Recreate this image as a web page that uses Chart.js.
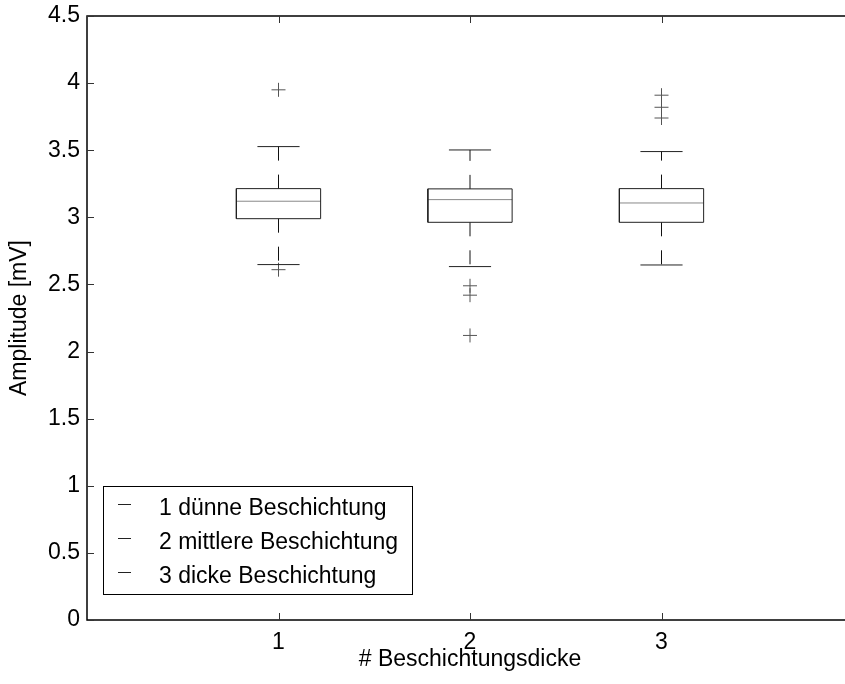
<!DOCTYPE html>
<html>
<head>
<meta charset="utf-8">
<script src="https://cdn.jsdelivr.net/npm/chart.js@4/dist/chart.umd.min.js"></script>
<style>
  html, body { margin: 0; padding: 0; background: #fff; overflow: hidden; }
  #wrap { position: relative; width: 870px; height: 684px; }
</style>
</head>
<body>
<div id="wrap"><canvas id="c"></canvas></div>
<script>
// ---- data ----
const categories = [1, 2, 3];
const xTickLabels = ['1', '2', '3'];
const yTickValues = [0, 0.5, 1, 1.5, 2, 2.5, 3, 3.5, 4, 4.5];
const yTickLabels = ['0', '0.5', '1', '1.5', '2', '2.5', '3', '3.5', '4', '4.5'];
const whiskerLow  = [2.648, 2.633, 2.645];
const q1          = [2.990, 2.963, 2.963];
const median      = [3.120, 3.132, 3.107];
const q3          = [3.214, 3.212, 3.214];
const whiskerHigh = [3.527, 3.502, 3.490];
const outliers1 = [3.95, 2.61];
const outliers2 = [2.49, 2.42, 2.12];
const outliers3 = [3.91, 3.82, 3.74];
const outliers = [outliers1, outliers2, outliers3];
const legendLabels = ['1 dünne Beschichtung', '2 mittlere Beschichtung', '3 dicke Beschichtung'];
const yTitle = 'Amplitude [mV]';
const xTitle = '# Beschichtungsdicke';

// ---- style ----
const FONT = '"Liberation Sans", Arial, sans-serif';
const FS = 23;
const BOX_HALF = 0.22;
const CAP_HALF = 0.11;

const datasets = [];
categories.forEach((c, i) => {
  datasets.push({
    data: [
      {x: c - BOX_HALF, y: q1[i]}, {x: c + BOX_HALF, y: q1[i]},
      {x: c + BOX_HALF, y: q3[i]}, {x: c - BOX_HALF, y: q3[i]},
      {x: c - BOX_HALF, y: q1[i]}
    ],
    showLine: true, borderColor: '#222', borderWidth: 1, pointRadius: 0, fill: false
  });
  datasets.push({
    data: [{x: c - BOX_HALF, y: median[i]}, {x: c + BOX_HALF, y: median[i]}],
    showLine: true, borderColor: '#888', borderWidth: 1, pointRadius: 0
  });
  datasets.push({
    data: [{x: c, y: q3[i]}, {x: c, y: whiskerHigh[i]}],
    showLine: true, borderColor: '#111', borderWidth: 1, borderDash: [14, 14], pointRadius: 0
  });
  datasets.push({
    data: [{x: c, y: q1[i]}, {x: c, y: whiskerLow[i]}],
    showLine: true, borderColor: '#111', borderWidth: 1, borderDash: [14, 14], pointRadius: 0
  });
  datasets.push({
    data: [{x: c - CAP_HALF, y: whiskerHigh[i]}, {x: c + CAP_HALF, y: whiskerHigh[i]}],
    showLine: true, borderColor: '#222', borderWidth: 1, pointRadius: 0
  });
  datasets.push({
    data: [{x: c - CAP_HALF, y: whiskerLow[i]}, {x: c + CAP_HALF, y: whiskerLow[i]}],
    showLine: true, borderColor: '#222', borderWidth: 1, pointRadius: 0
  });
  datasets.push({
    data: outliers[i].map(v => ({x: c, y: v})),
    showLine: false, pointStyle: 'cross', pointRadius: 7, pointBorderWidth: 1,
    borderColor: '#555', backgroundColor: '#555'
  });
});

const frame = {
  id: 'frame',
  afterDraw(chart) {
    const {ctx, chartArea: a, scales} = chart;
    ctx.save();
    ctx.strokeStyle = '#000';
    ctx.lineWidth = 1.5;
    ctx.strokeRect(a.left, a.top, a.right - a.left, a.bottom - a.top);
    ctx.lineWidth = 1;
    ctx.strokeStyle = '#333';
    const TL = 7;
    scales.y.ticks.forEach(t => {
      const y = Math.round(scales.y.getPixelForValue(t.value)) + 0.5;
      ctx.beginPath();
      ctx.moveTo(a.left, y); ctx.lineTo(a.left + TL, y);
      ctx.moveTo(a.right, y); ctx.lineTo(a.right - TL, y);
      ctx.stroke();
    });
    scales.x.ticks.forEach(t => {
      const x = Math.round(scales.x.getPixelForValue(t.value)) + 0.5;
      ctx.beginPath();
      ctx.moveTo(x, a.bottom); ctx.lineTo(x, a.bottom - TL);
      ctx.moveTo(x, a.top); ctx.lineTo(x, a.top + TL);
      ctx.stroke();
    });
    // legend
    const lx = a.left + 16, ly = a.bottom - 134, lw = 309, lh = 108;
    ctx.fillStyle = '#fff';
    ctx.fillRect(lx, ly, lw, lh);
    ctx.strokeStyle = '#000';
    ctx.lineWidth = 1;
    ctx.strokeRect(lx + 0.5, ly + 0.5, lw, lh);
    ctx.font = FS + 'px ' + FONT;
    ctx.textBaseline = 'alphabetic';
    ctx.textAlign = 'left';
    legendLabels.forEach((lab, i) => {
      const base = ly + 29 + i * 34;
      ctx.strokeStyle = '#222';
      ctx.beginPath();
      ctx.moveTo(lx + 15, base - 10.5); ctx.lineTo(lx + 28, base - 10.5);
      ctx.stroke();
      ctx.fillStyle = '#000';
      ctx.fillText(lab, lx + 56, base);
    });
    ctx.restore();
  }
};

new Chart(document.getElementById('c'), {
  type: 'scatter',
  data: { datasets },
  options: {
    responsive: true,
    maintainAspectRatio: false,
    animation: false,
    devicePixelRatio: 1,
    layout: { padding: { top: 16, right: 17, left: 0, bottom: 0 } },
    plugins: { legend: { display: false }, tooltip: { enabled: false } },
    scales: {
      x: {
        type: 'linear', min: 0, max: 4,
        afterBuildTicks: s => { s.ticks = categories.map(v => ({value: v})); },
        afterFit: s => { s.height = 64; s.paddingLeft = 0; s.paddingRight = 0; },
        grid: { display: false, drawTicks: false },
        border: { display: false },
        ticks: {
          color: '#000', padding: 9, font: { family: FONT, size: FS },
          callback: (v) => xTickLabels[categories.indexOf(v)] ?? ''
        },
        title: { display: true, text: xTitle, color: '#000', font: { family: FONT, size: FS }, padding: { top: 0, bottom: 11 } }
      },
      y: {
        type: 'linear', min: 0, max: 4.5,
        afterBuildTicks: s => { s.ticks = yTickValues.map(v => ({value: v})); },
        afterFit: s => { s.width = 87; s.paddingTop = 0; s.paddingBottom = 0; },
        grid: { display: false, drawTicks: false },
        border: { display: false },
        ticks: {
          color: '#000', padding: 7, font: { family: FONT, size: FS },
          callback: (v) => yTickLabels[yTickValues.indexOf(v)] ?? ''
        },
        title: { display: true, text: yTitle, color: '#000', font: { family: FONT, size: FS }, padding: { top: 6, bottom: 0 } }
      }
    }
  },
  plugins: [frame]
});
</script>
</body>
</html>
